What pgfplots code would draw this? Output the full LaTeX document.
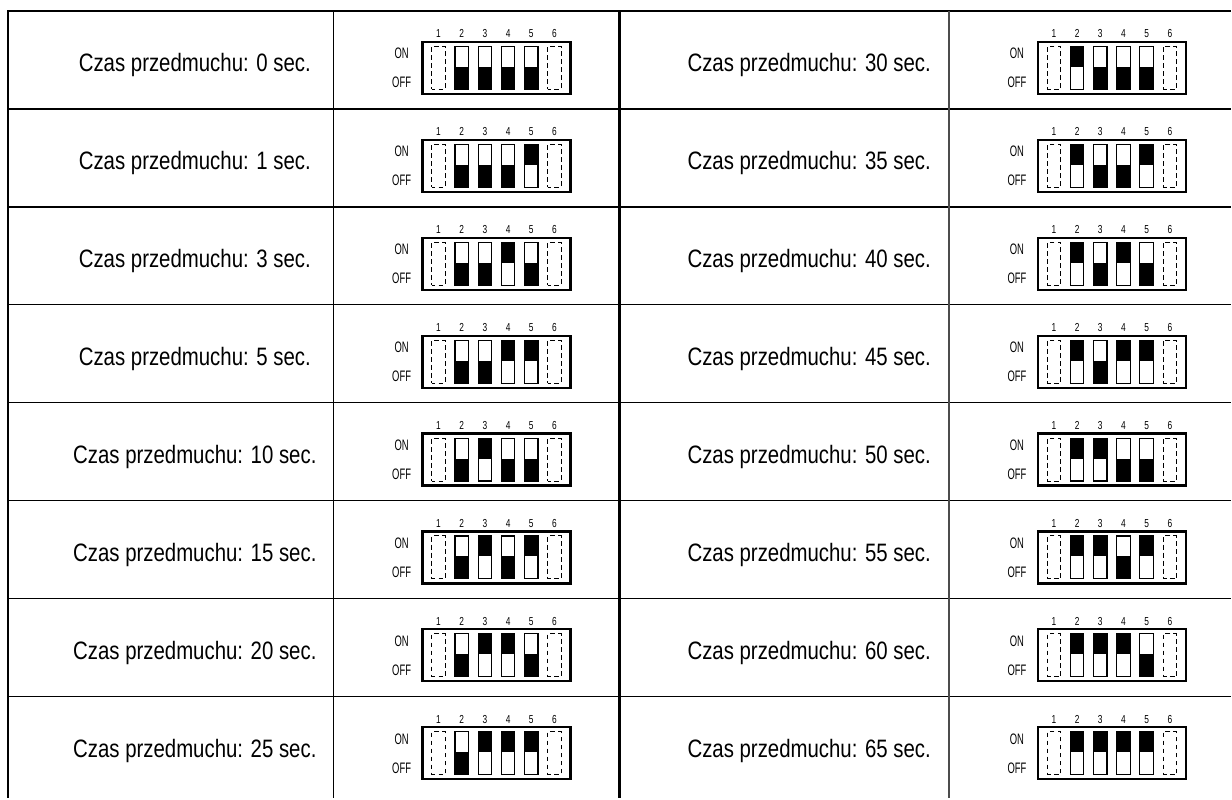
\documentclass[border=0pt]{standalone}
\usepackage{fontspec}
\setmainfont{Liberation Sans}
\newfontfamily\narrowfont[FakeStretch=0.81]{Liberation Sans}
\newfontfamily\condfont[FakeStretch=0.62]{Liberation Sans}
\newfontfamily\digfont[FakeStretch=0.72]{Liberation Sans}
\usepackage{pgfplots}
\pgfplotsset{compat=1.18}
\usepackage{pgfplotstable}

\newcommand\labelfont{\narrowfont\fontsize{12.6}{14}\selectfont}
\newcommand\onfont{\condfont\fontsize{7.6}{8}\selectfont}
\newcommand\digitfont{\digfont\fontsize{5.8}{6}\selectfont}

% switch lever, black half up = ON
\pgfdeclareplotmark{swon}{%
  \pgfsetlinewidth{0.55pt}%
  \pgfpathrectangle{\pgfpoint{-3.375pt}{0.5pt}}{\pgfpoint{6.75pt}{10.25pt}}%
  \pgfusepath{fill}%
  \pgfpathrectangle{\pgfpoint{-3.375pt}{-10.75pt}}{\pgfpoint{6.75pt}{21.5pt}}%
  \pgfusepath{stroke}}
\pgfdeclareplotmark{swoff}{%
  \pgfsetlinewidth{0.55pt}%
  \pgfpathrectangle{\pgfpoint{-3.375pt}{-10.75pt}}{\pgfpoint{6.75pt}{11.25pt}}%
  \pgfusepath{fill}%
  \pgfpathrectangle{\pgfpoint{-3.375pt}{-10.75pt}}{\pgfpoint{6.75pt}{21.5pt}}%
  \pgfusepath{stroke}}
% frame of the dip switch with numbers, ON/OFF and the unused positions 1 and 6
\pgfdeclareplotmark{dipframe}{%
  \pgfsetlinewidth{1.1pt}%
  \pgfpathrectangle{\pgfpoint{-37pt}{-13pt}}{\pgfpoint{74pt}{26pt}}%
  \pgfusepath{stroke}%
  \pgfsetlinewidth{0.5pt}%
  \pgfsetdash{{2.4pt}{1.6pt}}{0.6pt}%
  \pgfpathrectangle{\pgfpoint{-32.375pt}{-10.75pt}}{\pgfpoint{6.75pt}{21.5pt}}%
  \pgfpathrectangle{\pgfpoint{25.625pt}{-10.75pt}}{\pgfpoint{6.75pt}{21.5pt}}%
  \pgfusepath{stroke}%
  \pgfsetdash{}{0pt}%
  \pgftext[base,at={\pgfpoint{-29pt}{15pt}}]{\digitfont 1}%
  \pgftext[base,at={\pgfpoint{-17.4pt}{15pt}}]{\digitfont 2}%
  \pgftext[base,at={\pgfpoint{-5.8pt}{15pt}}]{\digitfont 3}%
  \pgftext[base,at={\pgfpoint{5.8pt}{15pt}}]{\digitfont 4}%
  \pgftext[base,at={\pgfpoint{17.4pt}{15pt}}]{\digitfont 5}%
  \pgftext[base,at={\pgfpoint{29pt}{15pt}}]{\digitfont 6}%
  \pgftext[base,at={\pgfpoint{-47.5pt}{4.5pt}}]{\onfont ON}%
  \pgftext[base,at={\pgfpoint{-47.5pt}{-10pt}}]{\onfont OFF}}
\pgfdeclareplotmark{empty}{}

% time, table column, row, switches 2..5 (1 = ON)
\pgfplotstableread{
t  col row s2 s3 s4 s5
0  0   0   0  0  0  0
1  0   1   0  0  0  1
3  0   2   0  0  1  0
5  0   3   0  0  1  1
10 0   4   0  1  0  0
15 0   5   0  1  0  1
20 0   6   0  1  1  0
25 0   7   0  1  1  1
30 1   0   1  0  0  0
35 1   1   1  0  0  1
40 1   2   1  0  1  0
45 1   3   1  0  1  1
50 1   4   1  1  0  0
55 1   5   1  1  0  1
60 1   6   1  1  1  0
65 1   7   1  1  1  1
}\dips

\begin{document}
\begin{tikzpicture}
\begin{axis}[
    scale only axis,
    width=616pt, height=399.5pt,
    xmin=0, xmax=1232, ymin=0, ymax=799,
    y dir=reverse,
    hide axis,
    clip=false,
  ]
  \addplot[draw=none] coordinates {(0,0) (1232,799)};

  % table rules
  \addplot[black, line width=1.25pt] coordinates {(8,11) (1232,11)};
  \addplot[black, line width=0.75pt, unbounded coords=jump] coordinates {
    (8,109) (1232,109) (nan,nan)
    (8,207) (1232,207) (nan,nan)
    (8,305) (1232,305) (nan,nan)
    (8,403) (1232,403) (nan,nan)
    (8,501) (1232,501) (nan,nan)
    (8,599) (1232,599) (nan,nan)
    (8,697) (1232,697)
  };
  \addplot[black, line width=1pt] coordinates {(8,10.4) (8,799)};
  \addplot[black, line width=0.75pt] coordinates {(334,11) (334,799)};
  \addplot[black, line width=1.5pt] coordinates {(620,11) (620,799)};
  \addplot[black!70, line width=0.9pt] coordinates {(950,11) (950,799)};

  % labels
  \addplot[scatter, only marks, mark=empty, point meta=explicit symbolic,
    scatter/@pre marker code/.code={%
      \pgftext[base]{\labelfont Czas przedmuchu: \pgfplotspointmeta\ sec.}},
    scatter/@post marker code/.code={}]
    table[x expr=195+615*\thisrow{col}, y expr=72+98*\thisrow{row}, meta=t]{\dips};

  % switch frames
  \addplot[only marks, mark=dipframe, mark options={black}]
    table[x expr=497+616*\thisrow{col}, y expr=68+98*\thisrow{row}]{\dips};

  % switch states
  \pgfplotsinvokeforeach{2,3,4,5}{
    \addplot[scatter, only marks, point meta=explicit symbolic,
      scatter/classes={0={mark=swoff}, 1={mark=swon}},
      mark options={black, fill=black}]
      table[x expr=497+616*\thisrow{col}+23.2*(#1-3.5), y expr=68+98*\thisrow{row}, meta=s#1]{\dips};
  }
\end{axis}
\end{tikzpicture}
\end{document}
